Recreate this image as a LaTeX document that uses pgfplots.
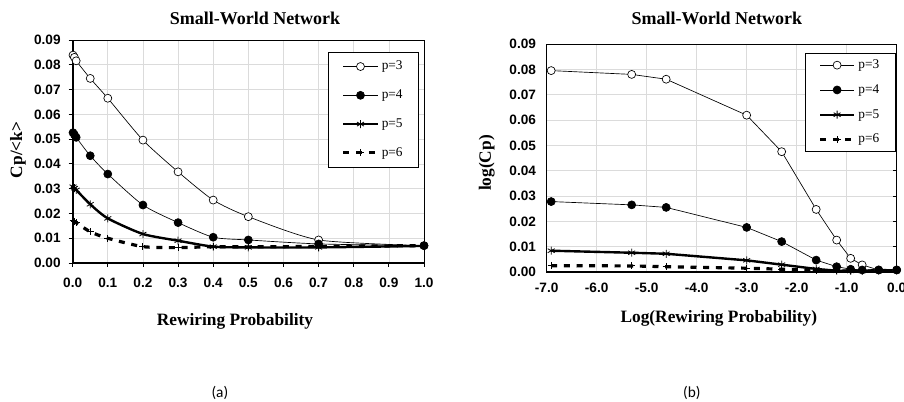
\documentclass[border=0pt]{standalone}
\usepackage{pgfplots}
\pgfplotsset{compat=1.18}
\usepackage{fontspec}
\setmainfont{Liberation Serif}
\newfontfamily\arialfont{Liberation Sans}
\newfontfamily\calibrifont{Carlito}
\begin{document}
\begin{tikzpicture}
\useasboundingbox (0,0) rectangle (678pt,-301.5pt);
\pgfplotsset{
  swstyle/.style={
    scale only axis,
    clip=false,
    axis line style={line width=0.6pt},
    grid=major,
    major grid style={line width=0.5pt, color=black!14},
    ticklabel style={font=\arialfont\bfseries\fontsize{10.2}{11}\selectfont},
    /pgf/number format/assume math mode=true,
    every axis title shift=0pt,
    title style={font=\bfseries\fontsize{13.5}{15}\selectfont, anchor=center, yshift=0pt},
    label style={font=\bfseries\fontsize{13}{15}\selectfont, anchor=center},
    ymin=0, ymax=0.09,
    ytick={0,0.01,0.02,0.03,0.04,0.05,0.06,0.07,0.08,0.09},
    yticklabel style={/pgf/number format/fixed, /pgf/number format/fixed zerofill, /pgf/number format/precision=2},
    xticklabel style={/pgf/number format/fixed, /pgf/number format/fixed zerofill, /pgf/number format/precision=1},
    scaled y ticks=false, scaled x ticks=false,
    major tick length=3pt,
    tick style={black, line width=0.6pt},
    legend cell align=left,
    legend image code/.code={\draw[mark repeat=2,mark phase=2,##1] plot coordinates {(0pt,0pt) (12.75pt,0pt) (25.5pt,0pt)};},
    legend style={font=\fontsize{10}{11}\selectfont, draw=black, line width=0.6pt,
      inner xsep=10pt, inner ysep=4.5pt, row sep=9.5pt, fill=white},
  },
  sA/.style={black, line width=0.5pt, mark=*, mark size=3pt, mark options={fill=white, line width=0.5pt}},
  sB/.style={black, line width=0.5pt, mark=*, mark size=3pt, mark options={fill=black, line width=0.5pt}},
  sC/.style={black, line width=1.8pt, mark=asterisk, mark size=3pt, mark options={line width=0.6pt, solid}},
  sD/.style={black, line width=2.4pt, dash pattern=on 4.5pt off 5pt, mark=+, mark size=2.6pt, mark options={line width=0.8pt, solid}},
}
% ---------------- (a) ----------------
\begin{axis}[swstyle,
  at={(54.5pt,-197.25pt)}, anchor=south west,
  width=263.5pt, height=167.25pt,
  xmin=0, xmax=1,
  xtick={0,0.1,0.2,0.3,0.4,0.5,0.6,0.7,0.8,0.9,1.0},
  tick pos=left, tick align=outside,
  xticklabel style={yshift=-5pt},
  yticklabel style={xshift=-2.5pt},
  title={Small-World Network},
  title style={at={(axis description cs:0.519,1.0987)}},
  xlabel={Rewiring Probability},
  xlabel style={at={(axis description cs:0.462,-0.26)}},
  ylabel={Cp/<k>},
  ylabel style={at={(axis description cs:-0.1557,0.507)}},
  legend style={at={(rel axis cs:0.9858,0.946)}, anchor=north east},
]
\addplot[sA, smooth, tension=0.4] coordinates {(0.001,0.0839) (0.005,0.0830) (0.01,0.0816) (0.05,0.0745) (0.1,0.0665) (0.2,0.0496) (0.3,0.0368) (0.4,0.0254) (0.5,0.0187) (0.7,0.0093) (1.0,0.0070)};
\addplot[sB, smooth, tension=0.4] coordinates {(0.001,0.0526) (0.005,0.0518) (0.01,0.0507) (0.05,0.0433) (0.1,0.0359) (0.2,0.0234) (0.3,0.0163) (0.4,0.0104) (0.5,0.0093) (0.7,0.0077) (1.0,0.0070)};
\addplot[sC, smooth, tension=0.4] coordinates {(0.001,0.0308) (0.005,0.0302) (0.01,0.0295) (0.05,0.0237) (0.1,0.0180) (0.2,0.0117) (0.3,0.0090) (0.4,0.0066) (0.5,0.0063) (0.7,0.0063) (1.0,0.0069)};
\addplot[sD, smooth, tension=0.4] coordinates {(0.001,0.0170) (0.005,0.0167) (0.01,0.0163) (0.05,0.0126) (0.1,0.0100) (0.2,0.0066) (0.3,0.0062) (0.4,0.0066) (0.5,0.0065) (0.7,0.0067) (1.0,0.0070)};
\legend{p=3,p=4,p=5,p=6}
\draw[line width=1.5pt] (rel axis cs:0,1) -- (rel axis cs:0,0) -- (rel axis cs:1,0);
\node[font=\calibrifont\fontsize{11.5}{13}\selectfont] at (axis description cs:0.419,-0.583) {(a)};
\end{axis}
% ---------------- (b) ----------------
\begin{axis}[swstyle,
  at={(410pt,-204pt)}, anchor=south west,
  width=262.5pt, height=171pt,
  xmin=-7, xmax=0,
  xtick={-7,-6,-5,-4,-3,-2,-1,0},
  xtick style={draw=none},
  ytick pos=right, yticklabel pos=left, tick align=inside,
  xticklabel style={yshift=-5pt},
  yticklabel style={xshift=-4.5pt},
  title={Small-World Network},
  title style={at={(axis description cs:0.4866,1.114)}},
  xlabel={Log(Rewiring Probability)},
  xlabel style={at={(axis description cs:0.492,-0.2018)}},
  ylabel={log(Cp)},
  ylabel style={at={(axis description cs:-0.1714,0.478)}},
  legend style={at={(rel axis cs:0.997,0.962)}, anchor=north east, row sep=6.5pt, inner ysep=3pt},
]
\addplot[sA] coordinates {(-6.91,0.0795) (-5.30,0.0780) (-4.61,0.0761) (-3.00,0.0619) (-2.30,0.0475) (-1.61,0.0247) (-1.20,0.0126) (-0.92,0.0054) (-0.69,0.0028) (-0.36,0.0008) (0,0.0008)};
\addplot[sB] coordinates {(-6.91,0.0278) (-5.30,0.0265) (-4.61,0.0255) (-3.00,0.0176) (-2.30,0.0120) (-1.61,0.0047) (-1.20,0.0021) (-0.92,0.0011) (-0.69,0.0008) (-0.36,0.0008) (0,0.0008)};
\addplot[sC] coordinates {(-6.91,0.0084) (-5.30,0.0076) (-4.61,0.0072) (-3.00,0.0046) (-2.30,0.0029) (-1.61,0.0012) (-1.20,0.0005) (-0.92,0.0004) (-0.69,0.0004) (-0.36,0.0006) (0,0.0007)};
\addplot[sD] coordinates {(-6.91,0.0025) (-5.30,0.0024) (-4.61,0.0021) (-3.00,0.0015) (-2.30,0.0011) (-1.61,0.0006) (-1.20,0.0004) (-0.92,0.0004) (-0.69,0.0004) (-0.36,0.0005) (0,0.0007)};
\legend{p=3,p=4,p=5,p=6}
\draw[line width=1.5pt] (rel axis cs:0,0) -- (rel axis cs:1,0);
\draw[line width=1pt] (rel axis cs:1,0) -- (rel axis cs:1,1);
\node[font=\calibrifont\fontsize{11.5}{13}\selectfont] at (axis description cs:0.415,-0.531) {(b)};
\end{axis}
\end{tikzpicture}
\end{document}
